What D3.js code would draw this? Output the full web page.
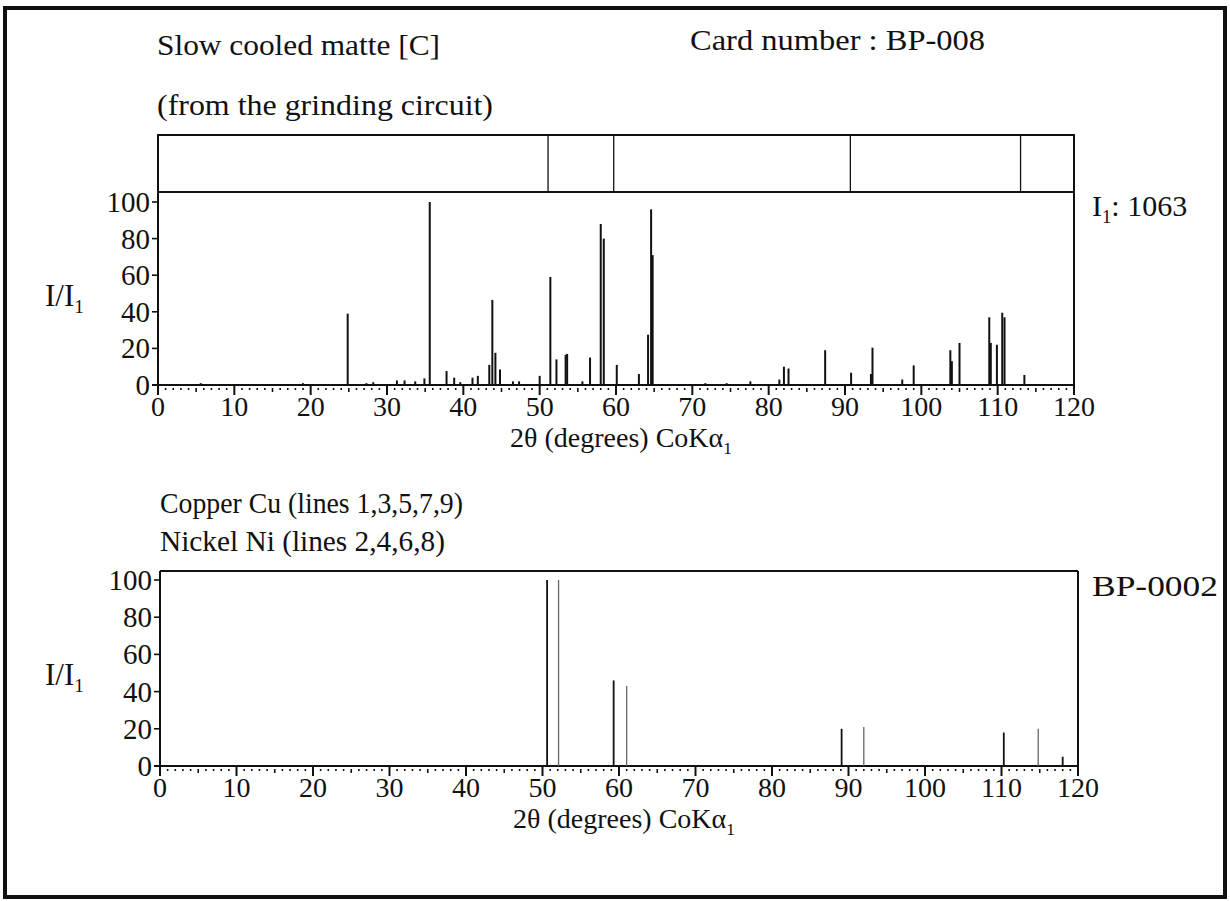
<!DOCTYPE html>
<html>
<head>
<meta charset="utf-8">
<script src="https://cdn.jsdelivr.net/npm/d3@7"></script>
<style>
  body { margin: 0; background: #fff; }
  text { font-family: "Liberation Serif", serif; fill: #111; }
</style>
</head>
<body>
<div class="chart"></div>
<script>
// sample pattern, card BP-008 (2theta in degrees, I/I1 in %)
var sampleTheta = [5.6, 19.0, 24.85, 27.3, 28.2, 31.3, 32.3, 33.7, 34.9, 35.6, 37.8, 38.8, 39.6,
  41.2, 41.9, 43.4, 43.8, 44.2, 44.8, 46.5, 47.3, 50.0, 51.4, 52.2, 53.4, 53.6, 55.6, 56.6,
  58.0, 58.4, 60.1, 63.0, 64.2, 64.6, 64.8, 71.7, 74.5, 77.6, 81.4, 82.0, 82.6, 87.4, 90.8,
  93.4, 93.6, 97.5, 99.0, 103.8, 104.0, 105.0, 108.9, 109.1, 109.9, 110.6, 110.9, 113.5];
var sampleInt = [1, 1, 39, 1, 1.5, 2.5, 2.5, 2, 3.6, 100, 7.6, 4, 1.5,
  4, 5, 11, 46.5, 17.6, 8.5, 2, 2, 5, 59, 14, 16.5, 17, 2, 15,
  88, 80, 11, 6, 27.5, 96, 71, 1, 1, 2, 3, 10, 9, 19, 6.7,
  6, 20.4, 3, 10.7, 19, 13, 23, 37, 23, 22, 39.5, 37, 5.5];

// marks in the strip above the sample pattern
var stripTheta = [51.1, 59.7, 90.7, 113.0];

// reference card BP-0002: Cu lines 1,3,5,7,9 and Ni lines 2,4,6,8
var refTheta = [50.6, 52.1, 59.3, 61.0, 89.1, 92.0, 110.3, 114.8, 118.0];
var refInt = [100, 100, 46, 43, 20, 21, 18, 20, 5];
var refPhase = ["Cu", "Ni", "Cu", "Ni", "Cu", "Ni", "Cu", "Ni", "Cu"];

var xTicks = [0, 10, 20, 30, 40, 50, 60, 70, 80, 90, 100, 110, 120];
var yTicks = [0, 20, 40, 60, 80, 100];

var svg = d3.select(".chart").append("svg")
  .attr("width", 1230).attr("height", 901);

// outer frame
svg.append("rect").attr("x", 5).attr("y", 8).attr("width", 1220).attr("height", 889)
  .attr("fill", "none").attr("stroke", "#111").attr("stroke-width", 4);

function label(x, y, s, len) {
  var t = svg.append("text").attr("x", x).attr("y", y).attr("font-size", 30).text(s);
  if (len) t.attr("textLength", len).attr("lengthAdjust", "spacingAndGlyphs");
  return t;
}

function sub(t, main, s) {
  t.append("tspan").text(main);
  t.append("tspan").text(s).attr("font-size", "0.62em").attr("dy", 7);
}

function drawAxes(g, x, y, top) {
  var y0 = y(0);
  var x0 = x(0), x1 = x(120);
  // left axis + frame
  g.append("line").attr("x1", x0).attr("x2", x0).attr("y1", top).attr("y2", y0 + 10)
    .attr("stroke", "#111").attr("stroke-width", 2);
  g.append("line").attr("x1", x1).attr("x2", x1).attr("y1", top).attr("y2", y0 + 10)
    .attr("stroke", "#111").attr("stroke-width", 2);
  // baseline
  g.append("line").attr("x1", x0 - 6).attr("x2", x1).attr("y1", y0).attr("y2", y0)
    .attr("stroke", "#111").attr("stroke-width", 2);

  // x minor/medium/major ticks
  var minor = d3.range(0, 121, 1);
  g.selectAll(".xt").data(minor).enter().append("line")
    .attr("x1", function(d) { return x(d); })
    .attr("x2", function(d) { return x(d); })
    .attr("y1", function(d) { return d % 10 === 0 ? y0 : y0 + 3; })
    .attr("y2", function(d) { return d % 10 === 0 ? y0 + 10 : (d % 5 === 0 ? y0 + 7 : y0 + 5); })
    .attr("stroke", "#111")
    .attr("stroke-width", function(d) { return d % 10 === 0 ? 2 : 1.6; });

  g.selectAll(".xl").data(xTicks).enter().append("text")
    .attr("x", function(d) { return x(d); })
    .attr("y", y0 + 31)
    .attr("text-anchor", "middle")
    .attr("font-size", 28)
    .text(function(d) { return d; });

  // y ticks
  g.selectAll(".yt").data(yTicks).enter().append("line")
    .attr("x1", x0 - 6).attr("x2", x0)
    .attr("y1", function(d) { return y(d); })
    .attr("y2", function(d) { return y(d); })
    .attr("stroke", "#111").attr("stroke-width", 1.6);

  g.selectAll(".yl").data(yTicks).enter().append("text")
    .attr("x", x0 - 8)
    .attr("y", function(d) { return y(d) + 10; })
    .attr("text-anchor", "end")
    .attr("font-size", 29)
    .text(function(d) { return d; });

  var yl = g.append("text").attr("x", 45).attr("y", y(50) + 12).attr("font-size", 31);
  sub(yl, "I/I", "1");

  var xl = g.append("text").attr("x", (x0 + x1) / 2 + 5).attr("y", y0 + 62)
    .attr("text-anchor", "middle").attr("font-size", 28);
  xl.append("tspan").text("2\u03b8 (degrees) CoK\u03b1");
  xl.append("tspan").text("1").attr("font-size", "0.62em").attr("dy", 7);
}

// ---- top panel ----
var xTop = d3.scaleLinear().domain([0, 120]).range([158, 1074]);
var yTop = d3.scaleLinear().domain([0, 100]).range([385, 202]);
var gTop = svg.append("g");

label(157, 55, "Slow cooled matte [C]", 283);
label(157, 115, "(from the grinding circuit)", 336);
label(690, 50, "Card number : BP-008", 295);

gTop.append("rect").attr("x", xTop(0)).attr("y", 135)
  .attr("width", xTop(120) - xTop(0)).attr("height", 57)
  .attr("fill", "none").attr("stroke", "#111").attr("stroke-width", 2);
gTop.selectAll(".strip").data(stripTheta).enter().append("line")
  .attr("x1", function(d) { return xTop(d); })
  .attr("x2", function(d) { return xTop(d); })
  .attr("y1", 135).attr("y2", 192)
  .attr("stroke", "#111").attr("stroke-width", 1.3);

drawAxes(gTop, xTop, yTop, 192);

gTop.selectAll(".pk").data(sampleTheta).enter().append("line")
  .attr("x1", function(d) { return xTop(d); })
  .attr("x2", function(d) { return xTop(d); })
  .attr("y1", yTop(0))
  .attr("y2", function(d, i) { return yTop(sampleInt[i]); })
  .attr("stroke", "#111").attr("stroke-width", 2);

var i1 = svg.append("text").attr("x", 1092).attr("y", 216).attr("font-size", 30);
sub(i1, "I", "1");
i1.append("tspan").text(": 1063").attr("dy", -7);

// ---- bottom panel ----
label(160, 513, "Copper Cu (lines 1,3,5,7,9)", 303);
label(160, 551, "Nickel Ni (lines 2,4,6,8)", 285);

var xBot = d3.scaleLinear().domain([0, 120]).range([160, 1078]);
var yBot = d3.scaleLinear().domain([0, 100]).range([766, 580]);
var gBot = svg.append("g");

gBot.append("line").attr("x1", xBot(0)).attr("x2", xBot(120)).attr("y1", 571).attr("y2", 571)
  .attr("stroke", "#111").attr("stroke-width", 2);
drawAxes(gBot, xBot, yBot, 571);

gBot.selectAll(".rk").data(refTheta).enter().append("line")
  .attr("x1", function(d) { return xBot(d); })
  .attr("x2", function(d) { return xBot(d); })
  .attr("y1", yBot(0))
  .attr("y2", function(d, i) { return yBot(refInt[i]); })
  .attr("stroke", function(d, i) { return refPhase[i] === "Cu" ? "#111" : "#666"; })
  .attr("stroke-width", function(d, i) { return refPhase[i] === "Cu" ? 1.8 : 1.3; });

label(1092, 596, "BP-0002", 126);
</script>
</body>
</html>
